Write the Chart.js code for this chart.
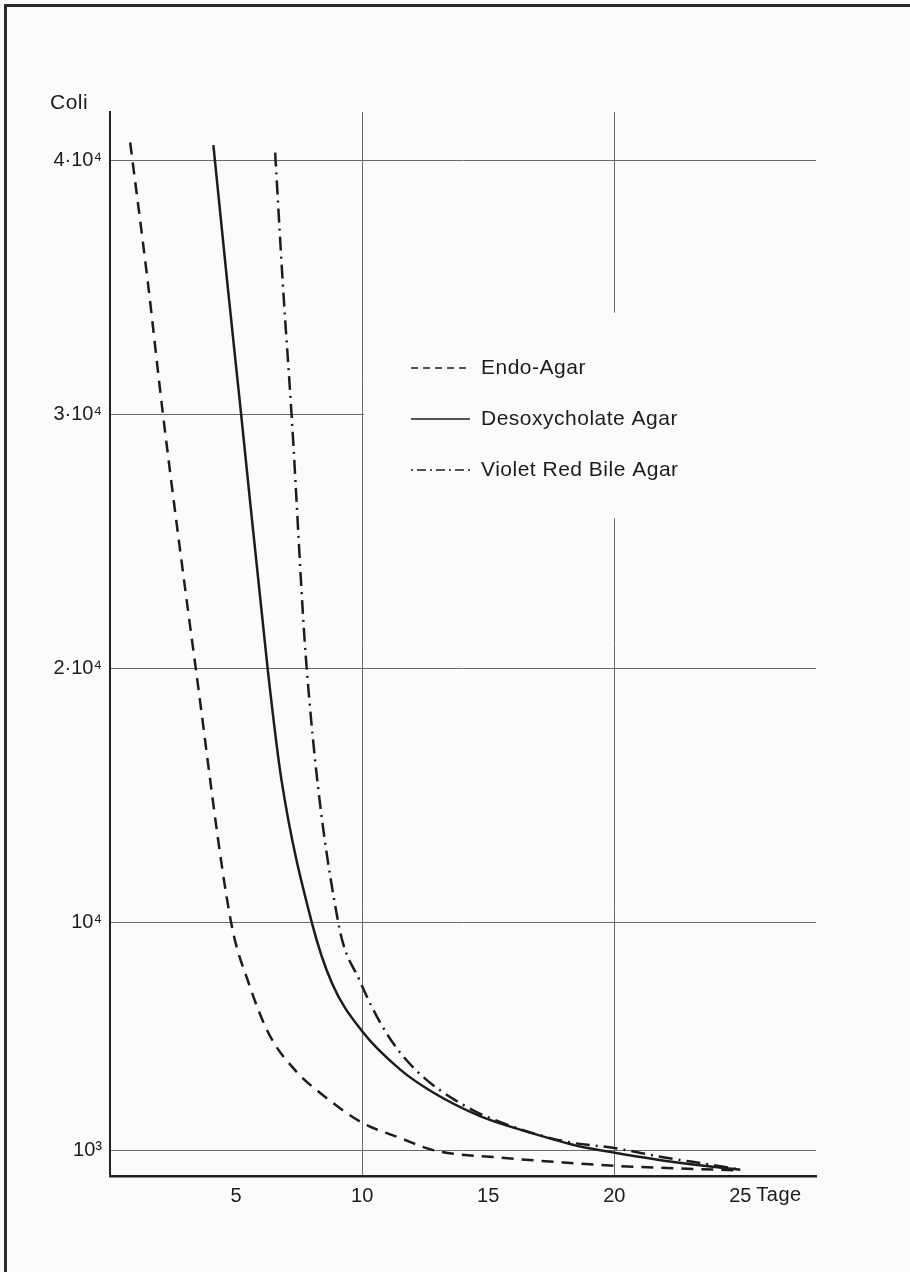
<!DOCTYPE html>
<html>
<head>
<meta charset="utf-8">
<script src="https://cdn.jsdelivr.net/npm/chart.js@4/dist/chart.umd.min.js"></script>
<style>
  body { margin: 0; background: #fbfbfa; }
  #wrap { position: relative; width: 910px; height: 1272px; overflow: hidden; }
  #frame { position: absolute; left: 4px; top: 4px; right: -10px; bottom: -10px;
           border-left: 3px solid #2a2a2a; border-top: 3px solid #2a2a2a; }
  canvas { position: absolute; left: 0; top: 0; }
</style>
</head>
<body>
<div id="wrap">
  <div id="frame"></div>
  <canvas id="myChart" width="910" height="1272"></canvas>
</div>
<script>
// values (days, colony count)
var endoDays   = [0.8, 1.5, 2.1, 3.4, 4.8, 5.5, 6.3, 7.4, 8.3, 10, 11.5, 12.9, 15.4, 18, 20, 22.5, 25];
var endoCounts = [40700, 35200, 30000, 20000, 10000, 7600, 5600, 4100, 3300, 2100, 1500, 1000, 730, 530, 400, 300, 220];

var desoDays   = [4.1, 4.65, 5.2, 6.25, 6.8, 8.0, 8.8, 10, 11.5, 12.8, 14.7, 16.7, 18.7, 20, 22.5, 25];
var desoCounts = [40600, 35200, 30000, 20000, 15600, 10000, 7600, 5700, 4200, 3300, 2350, 1700, 1150, 920, 530, 250];

var violetDays   = [6.55, 6.85, 7.2, 7.8, 9.05, 9.9, 10.95, 12.1, 14.1, 16.1, 18.1, 20, 22, 23.8, 25];
var violetCounts = [40300, 35200, 30000, 20000, 10000, 7700, 5650, 4200, 2750, 1900, 1350, 1100, 730, 450, 250];

var seriesNames = ['Endo-Agar', 'Desoxycholate Agar', 'Violet Red Bile Agar'];
var xTicks = [5, 10, 15, 20, 25];
var xGridAt = [10, 20];
var yTicks = [1000, 10000, 20000, 30000, 40000];
var yTickLabels = ['10\u00B3', '10\u2074', '2\u00B710\u2074', '3\u00B710\u2074', '4\u00B710\u2074'];

var ink = '#1c1c1c';
var font = '"Liberation Sans", Arial, sans-serif';

// legend sample dashes, a bit finer than on the curves
var legendDash = [[7, 5], [], [2, 4, 9, 4]];

function pts(xs, ys) {
  return xs.map(function (x, i) { return { x: x, y: ys[i] }; });
}

function series(label, xs, ys, dash) {
  return {
    label: label,
    data: pts(xs, ys),
    borderColor: ink,
    borderWidth: 2.5,
    borderDash: dash,
    pointRadius: 0,
    fill: false,
    cubicInterpolationMode: 'monotone'
  };
}

// white patch behind the legend, and the extra texts
var paperPlugin = {
  id: 'paper',
  beforeDatasetsDraw: function (chart) {
    var c = chart.ctx, x = chart.scales.x, y = chart.scales.y;
    c.save();
    c.fillStyle = '#fbfbfa';
    var x0 = x.getPixelForValue(10) + 1.5;
    var y0 = y.getPixelForValue(34000), y1 = y.getPixelForValue(25900);
    c.fillRect(x0, y0, chart.chartArea.right + 4 - x0, y1 - y0);
    c.restore();
  },
  afterDraw: function (chart) {
    var c = chart.ctx, a = chart.chartArea, x = chart.scales.x;
    c.save();
    c.fillStyle = ink;
    c.textBaseline = 'middle';
    c.textAlign = 'left';
    c.letterSpacing = '0.5px';
    c.font = '21px ' + font;
    c.fillText('Coli', a.left - 60, a.top - 9);
    c.font = '20px ' + font;
    c.fillText('Tage', x.getPixelForValue(25) + 16, a.bottom + 19);

    // legend
    var lx = 411, ly = 368;
    chart.data.datasets.forEach(function (ds, i) {
      var yy = ly + i * 51;
      c.strokeStyle = ink;
      c.lineWidth = 1.6;
      c.setLineDash(legendDash[i]);
      c.beginPath();
      c.moveTo(lx, yy);
      c.lineTo(lx + 59, yy);
      c.stroke();
      c.setLineDash([]);
      c.font = '21px ' + font;
      c.fillText(ds.label, lx + 70, yy);
    });
    c.restore();
  }
};

var ctx = document.getElementById('myChart');
var myChart = new Chart(ctx, {
  type: 'line',
  data: {
    datasets: [
      series(seriesNames[0], endoDays, endoCounts, [12, 8]),
      series(seriesNames[1], desoDays, desoCounts, []),
      series(seriesNames[2], violetDays, violetCounts, [14, 6, 2, 6])
    ]
  },
  options: {
    responsive: false,
    animation: false,
    layout: { padding: { left: 0, top: 112, right: 94, bottom: 0 } },
    scales: {
      x: {
        type: 'linear',
        min: 0,
        max: 28,
        afterBuildTicks: function (s) {
          s.ticks = xTicks.map(function (v) { return { value: v }; });
        },
        afterFit: function (s) { s.height = 96; },
        ticks: {
          color: ink,
          padding: 8,
          maxRotation: 0,
          font: { family: font, size: 20 },
          callback: function (v) { return String(v); }
        },
        grid: {
          drawTicks: false,
          lineWidth: 1,
          color: function (c) {
            return c.tick && xGridAt.indexOf(c.tick.value) >= 0 ? '#6a6a6a' : 'rgba(0,0,0,0)';
          }
        },
        border: { display: true, color: '#222', width: 2.5 }
      },
      y: {
        type: 'linear',
        min: 0,
        max: 41900,
        afterBuildTicks: function (s) {
          s.ticks = yTicks.map(function (v) { return { value: v }; });
        },
        afterFit: function (s) { s.width = 110; },
        ticks: {
          color: ink,
          padding: 8,
          font: { family: font, size: 20 },
          callback: function (v) {
            var i = yTicks.indexOf(v);
            return i >= 0 ? yTickLabels[i] : '';
          }
        },
        grid: { drawTicks: false, lineWidth: 1, color: '#6a6a6a' },
        border: { display: true, color: '#222', width: 2 }
      }
    },
    plugins: {
      legend: { display: false },
      tooltip: { enabled: false }
    }
  },
  plugins: [paperPlugin]
});
</script>
</body>
</html>
